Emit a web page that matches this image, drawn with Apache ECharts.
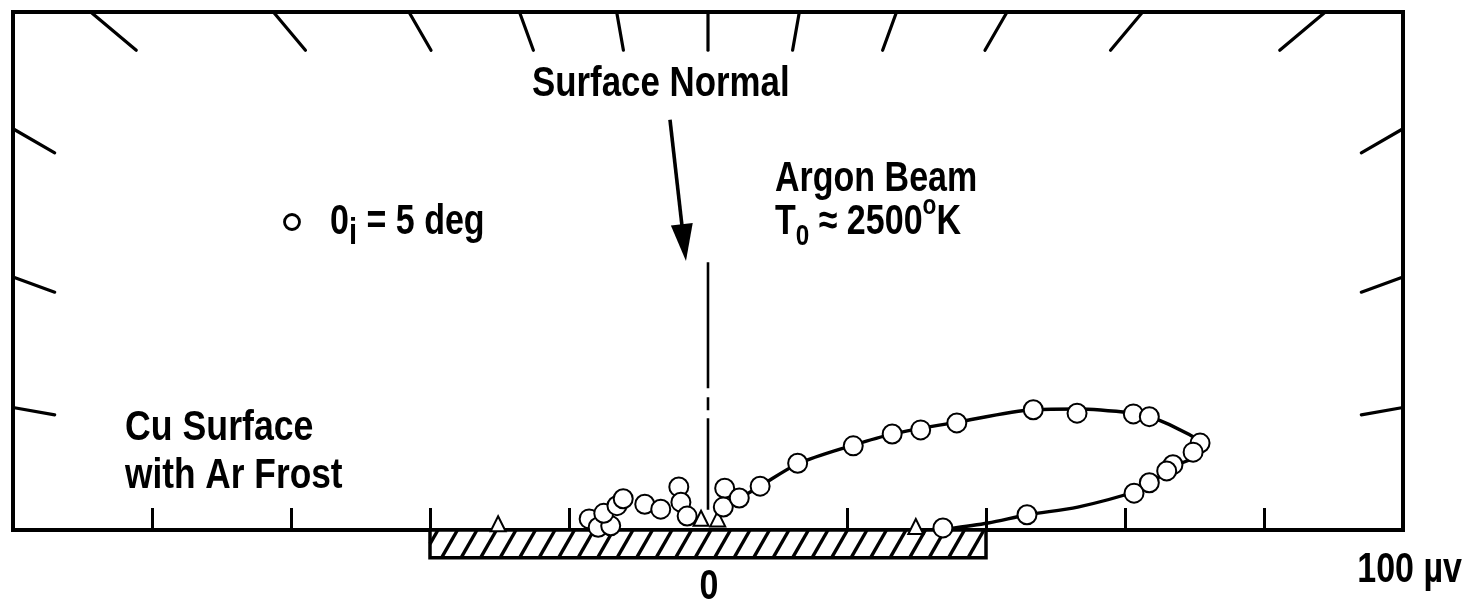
<!DOCTYPE html>
<html><head><meta charset="utf-8">
<style>html,body{margin:0;padding:0;background:#fff}#c{width:1483px;height:604px}</style>
<script src="https://cdn.jsdelivr.net/npm/echarts@6/dist/echarts.min.js"></script>
</head><body><div id="c"></div>
<script>
// ---- data (µv; x along surface, y along surface normal) ----
const circleX = [-17.1,-15.8,-14.0,-15.0,-13.1,-12.2,-9.1,-6.8,-4.2,-3.9,-3.0,2.4,2.2,4.5,7.5,12.9,20.9,26.5,30.6,35.8,46.8,53.1,61.2,63.5,70.8,69.8,66.9,66.0,63.5,61.3,45.9,33.8];
const circleY = [1.6,0.4,0.6,2.4,3.5,4.5,3.7,3.0,6.2,4.0,2.0,6.0,3.3,4.6,6.3,9.6,12.1,13.8,14.4,15.4,17.3,16.8,16.7,16.3,12.5,11.2,9.4,8.5,6.8,5.3,2.2,0.3];
const triangleX = [-30.2,-1.0,1.4,29.9];
const triangleY = [0.9,1.7,1.6,0.5];
const curveX = [3.0,4.6,7.5,12.9,20.9,26.5,35.8,46.9,53.2,61.4,63.7,69.1,71.4,70.3,67.2,63.7,61.4,53.2,46.0,40.3,34.5];
const curveY = [3.6,4.6,6.3,9.5,12.2,13.8,15.5,17.3,17.4,16.8,16.3,13.8,12.1,10.6,9.2,6.8,5.5,3.3,2.2,1.0,0.15];
const normalX = [0,0];
const normalY = [38.5,2.9];
const arrowFrom = [-5.47,59.0];
const arrowTo = [-3.17,38.7];
const angleTicks = [10,20,30,40,50,60,70,80,90,100,110,120,130,140,150,160,170];
const axisTickValues = [-80,-60,-40,-20,20,40,60,80];
const surfaceRange = [-40,40];
const surfaceDepth = 4;
const xMin = -100, xMax = 100, yMax = 74.5;

const FONT = "'Liberation Sans',Arial,sans-serif";
const SX = 0.81;
const zip = (a,b) => a.map((v,i) => [v,b[i]]);

const chart = echarts.init(document.getElementById('c'), null, {renderer:'canvas'});

function txt(x, y, text, align, sx) {
  return {
    type:'text', x:x, y:y, scaleX:sx||SX, silent:true,
    style:{text:text, fill:'#000', font:'bold 42px ' + FONT, align:align||'left', verticalAlign:'middle'}
  };
}
const richBase = {
  m:{fontSize:42, fontWeight:'bold', fontFamily:FONT, lineHeight:60, color:'#000'},
  sub:{fontSize:30, fontWeight:'bold', fontFamily:FONT, lineHeight:20, verticalAlign:'bottom', color:'#000'},
  subi:{fontSize:36, fontWeight:'bold', fontFamily:FONT, lineHeight:36, verticalAlign:'bottom', color:'#000'},
  sup:{fontSize:28, fontWeight:'bold', fontFamily:FONT, lineHeight:25, verticalAlign:'top', color:'#000'}
};

const option = {
  animation:false,
  backgroundColor:'#fff',
  grid:{left:13, right:80, top:12, bottom:74, show:true, borderColor:'#000', borderWidth:4, backgroundColor:'transparent'},
  xAxis:{type:'value', min:xMin, max:xMax, interval:20,
    axisLine:{show:true, onZero:false, lineStyle:{color:'#000', width:4}},
    axisTick:{show:true, inside:true, length:22, customValues:axisTickValues, lineStyle:{color:'#000', width:3}},
    axisLabel:{show:false}, splitLine:{show:false}},
  yAxis:{type:'value', min:0, max:yMax, show:false, splitLine:{show:false}},
  series:[
    { // angle ticks along the frame
      type:'custom', silent:true, clip:false, z:3,
      data: angleTicks.map(a => [a, 0]),
      renderItem:function(params, api){
        const a = api.value(0) * Math.PI / 180;
        const c = api.coord([0,0]);
        const tl = api.coord([xMin, yMax]), br = api.coord([xMax, 0]);
        const itl = api.coord([xMin + 6, yMax - 5.5]), ibr = api.coord([xMax - 6, 0]);
        const dx = Math.cos(a), dy = -Math.sin(a);
        function hit(l, r, t){
          const ts = [];
          if (dx > 1e-9) ts.push((r - c[0]) / dx);
          if (dx < -1e-9) ts.push((l - c[0]) / dx);
          if (dy < -1e-9) ts.push((t - c[1]) / dy);
          return Math.min.apply(null, ts);
        }
        const to = hit(tl[0], br[0], tl[1]);
        const ti = hit(itl[0], ibr[0], itl[1]);
        return {type:'line', shape:{x1:c[0]+dx*ti, y1:c[1]+dy*ti, x2:c[0]+dx*to, y2:c[1]+dy*to},
          style:{stroke:'#000', lineWidth:3.2, lineCap:'round'}};
      }
    },
    { // hatched surface
      type:'custom', silent:true, clip:false, z:2,
      data:[surfaceRange],
      renderItem:function(params, api){
        const p0 = api.coord([api.value(0), 0]);
        const p1 = api.coord([api.value(1), -surfaceDepth]);
        const x0 = p0[0], x1 = p1[0], yt = p0[1], yb = p1[1];
        const h = yb - yt, slant = 16, gap = 19.5;
        const children = [{type:'rect', shape:{x:x0, y:yt, width:x1-x0, height:h},
          style:{fill:'#fff', stroke:'#000', lineWidth:3.5}}];
        for (let b = x0 - slant + 8; b < x1; b += gap) {
          let xa = b, ya = yb, xz = b + slant, yz = yt;
          if (xa < x0) { ya = yb - (x0 - b) / slant * h; xa = x0; }
          if (xz > x1) { yz = yb - (x1 - b) / slant * h; xz = x1; }
          if (ya > yz) children.push({type:'line', shape:{x1:xa, y1:ya, x2:xz, y2:yz},
            style:{stroke:'#000', lineWidth:3.4}});
        }
        return {type:'group', children:children};
      }
    },
    { // surface normal arrow
      type:'custom', silent:true, clip:false, z:3,
      data:[[arrowFrom[0], arrowFrom[1], arrowTo[0], arrowTo[1]]],
      renderItem:function(params, api){
        const s = api.coord([api.value(0), api.value(1)]);
        const e = api.coord([api.value(2), api.value(3)]);
        const L = Math.hypot(e[0]-s[0], e[1]-s[1]);
        const ux = (e[0]-s[0])/L, uy = (e[1]-s[1])/L;
        const hl = 37, hw = 11;
        const bx = e[0] - ux*hl, by = e[1] - uy*hl;
        return {type:'group', children:[
          {type:'line', shape:{x1:s[0], y1:s[1], x2:bx + ux*4, y2:by + uy*4}, style:{stroke:'#000', lineWidth:3.6}},
          {type:'polygon', shape:{points:[[e[0],e[1]],[bx - uy*hw, by + ux*hw],[bx + uy*hw, by - ux*hw]]}, style:{fill:'#000'}}
        ]};
      }
    },
    { // surface normal (dash-dot)
      type:'line', silent:true, z:3, symbol:'none',
      data: zip(normalX, normalY),
      lineStyle:{color:'#000', width:2.6, type:[126,9,13,8], opacity:1}
    },
    { // fitted lobe
      type:'line', silent:true, z:4, symbol:'none', smooth:0.3,
      data: zip(curveX, curveY),
      lineStyle:{color:'#000', width:3.4, opacity:1}
    },
    {
      name:'θi = 5 deg', type:'scatter', silent:true, z:6,
      symbol:'emptyCircle', symbolSize:19,
      data: zip(circleX, circleY),
      itemStyle:{color:'#000', borderColor:'#000', borderWidth:3, opacity:1}
    },
    {
      type:'scatter', silent:true, z:5,
      symbol:'emptyTriangle', symbolSize:15,
      data: zip(triangleX, triangleY),
      itemStyle:{color:'#000', borderColor:'#000', borderWidth:2.4, opacity:1}
    }
  ],
  graphic:[
    txt(532, 84, 'Surface Normal', 'left', 0.83),
    txt(775, 179, 'Argon Beam'),
    {type:'text', x:775, y:222, scaleX:SX, silent:true, style:{text:'{m|T}{sub|0}{m| ≈ 2500}{sup|o}{m|K}', rich:richBase, align:'left', verticalAlign:'middle'}},
    {type:'circle', silent:true, shape:{cx:292, cy:222, r:7.5}, style:{fill:'#fff', stroke:'#000', lineWidth:2.8}},
    {type:'text', x:330, y:222, scaleX:SX, silent:true, style:{text:'{m|0}{subi|i}{m| = 5 deg}', rich:richBase, align:'left', verticalAlign:'middle'}},
    txt(125, 428, 'Cu Surface', 'left', 0.85),
    txt(125, 476, 'with Ar Frost', 'left', 0.84),
    txt(709, 587, '0', 'center'),
    txt(1462, 570, '100 µv', 'right')
  ]
};
chart.setOption(option);
</script></body></html>
